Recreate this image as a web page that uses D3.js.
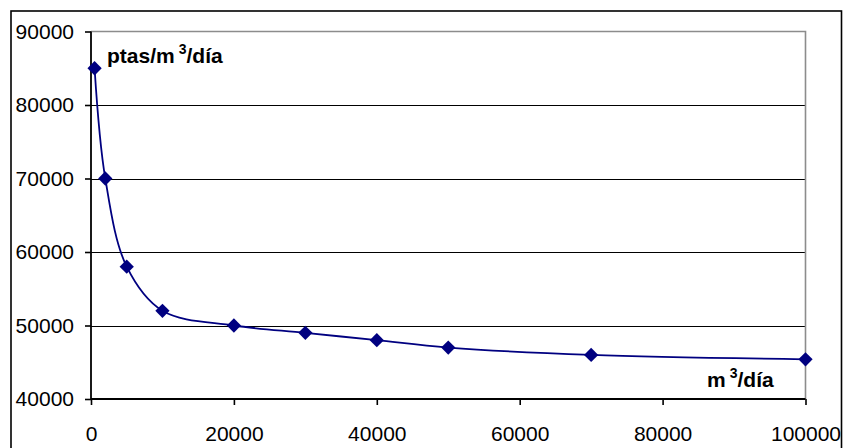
<!DOCTYPE html>
<html>
<head>
<meta charset="utf-8">
<script src="https://cdn.jsdelivr.net/npm/d3@7"></script>
<style>
  html, body { margin: 0; padding: 0; background: #fff; }
  svg { display: block; }
  text { font-family: "Liberation Sans", Arial, sans-serif; }
</style>
</head>
<body>
<div id="chart"></div>
<script>
const volumes = [500, 2000, 5000, 10000, 20000, 30000, 40000, 50000, 70000, 100000];
const costs = [85000, 70000, 58000, 52000, 50000, 49000, 48000, 47000, 46000, 45400];
const xTicks = [0, 20000, 40000, 60000, 80000, 100000];
const yTicks = [40000, 50000, 60000, 70000, 80000, 90000];

(function () {
const W = 843, H = 448;
const pL = 91, pR = 805.5, pT = 31.5, pB = 399;

const svg = d3.select("#chart").append("svg").attr("width", W).attr("height", H);

// outer chart border
svg.append("rect").attr("x", 11).attr("y", 11).attr("width", 830.5).attr("height", 450)
  .attr("fill", "none").attr("stroke", "#000").attr("stroke-width", 1.6);

const x = d3.scaleLinear().domain([0, 100000]).range([pL, pR]);
const y = d3.scaleLinear().domain([40000, 90000]).range([pB, pT]);

// gridlines
svg.append("g").selectAll("line").data(yTicks.filter(v => v > 40000 && v < 90000)).join("line")
  .attr("x1", pL).attr("x2", pR)
  .attr("y1", d => Math.round(y(d)) + 0.5).attr("y2", d => Math.round(y(d)) + 0.5)
  .attr("stroke", "#000").attr("stroke-width", 1).attr("shape-rendering", "crispEdges");

// top and right plot border (gray)
svg.append("path")
  .attr("d", `M${pL},${pT}H${pR}V${pB}`)
  .attr("fill", "none").attr("stroke", "#8c8c8c").attr("stroke-width", 1.6);

// axes
const yAxis = d3.axisLeft(y).tickValues(yTicks).tickSize(6).tickPadding(11).tickFormat(d3.format("d"));
const xAxis = d3.axisBottom(x).tickValues(xTicks).tickSize(6).tickPadding(10).tickFormat(d3.format("d"));

const gy = svg.append("g").attr("transform", `translate(${pL},0)`).call(yAxis);
const gx = svg.append("g").attr("transform", `translate(0,${pB})`).call(xAxis);
[gy, gx].forEach(g => {
  g.select(".domain").remove();
  g.selectAll(".tick line").attr("stroke", "#000").attr("stroke-width", 1.6);
  g.selectAll(".tick text").attr("fill", "#000").style("font-size", "21px")
    .style("font-family", "'Liberation Sans', Arial, sans-serif");
});
gx.selectAll(".tick text").attr("y", 41.5).attr("dy", 0);

svg.append("line").attr("x1", pL).attr("x2", pL).attr("y1", pT).attr("y2", pB)
  .attr("stroke", "#000").attr("stroke-width", 1.8);
svg.append("line").attr("x1", pL).attr("x2", pR).attr("y1", pB).attr("y2", pB)
  .attr("stroke", "#000").attr("stroke-width", 1.8);

// series
const pts = volumes.map((v, i) => [v, costs[i]]);
const line = d3.line().x(d => x(d[0])).y(d => y(d[1])).curve(d3.curveCatmullRom.alpha(0.5));
svg.append("path").datum(pts).attr("d", line)
  .attr("fill", "none").attr("stroke", "#000080").attr("stroke-width", 1.8);

const diamond = d3.symbol().type(d3.symbolDiamond2).size(130);
svg.append("g").selectAll("path").data(pts).join("path")
  .attr("d", diamond)
  .attr("transform", d => `translate(${x(d[0])},${y(d[1])})`)
  .attr("fill", "#000080");

// annotations
const t1 = svg.append("text").attr("x", 107).attr("y", 63)
  .style("font-size", "21px").style("font-weight", "bold").attr("fill", "#000");
t1.append("tspan").text("ptas/m");
t1.append("tspan").text("3").style("font-size", "14px").attr("dy", -9).attr("dx", 4);
t1.append("tspan").text("/día").attr("dy", 9);

const t2 = svg.append("text").attr("x", 707).attr("y", 387)
  .style("font-size", "21px").style("font-weight", "bold").attr("fill", "#000");
t2.append("tspan").text("m");
t2.append("tspan").text("3").style("font-size", "14px").attr("dy", -9).attr("dx", 4);
t2.append("tspan").text("/día").attr("dy", 9);
})();
</script>
</body>
</html>
